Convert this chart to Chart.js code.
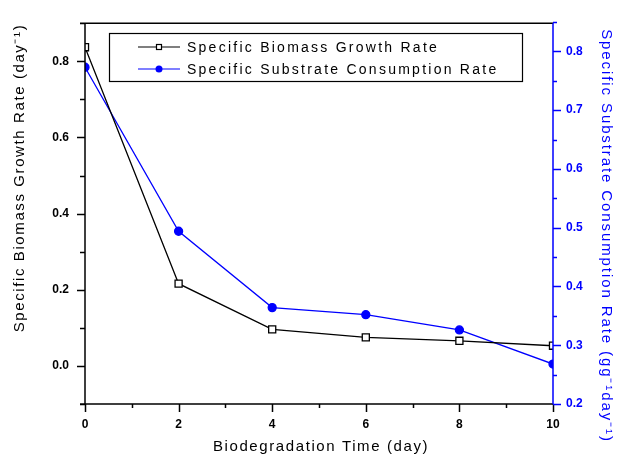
<!DOCTYPE html>
<html>
<head>
<meta charset="utf-8">
<script src="https://cdn.jsdelivr.net/npm/chart.js@4"></script>
<style>
  body { margin: 0; background: #fff; }
  #wrap { width: 618px; height: 455px; position: relative; }
</style>
</head>
<body>
<div id="wrap"><canvas id="myChart"></canvas></div>
<script>
// values
const days = [0, 2, 4, 6, 8, 10];
const biomassRate = [0.837, 0.216, 0.096, 0.075, 0.066, 0.053];     // day^-1, left axis
const substrateRate = [0.773, 0.494, 0.364, 0.352, 0.326, 0.268];   // g g^-1 day^-1, right axis

const xTicks = [0, 2, 4, 6, 8, 10];
const leftTicks = [0.0, 0.2, 0.4, 0.6, 0.8];
const rightTicks = [0.2, 0.3, 0.4, 0.5, 0.6, 0.7, 0.8];

const seriesNames = ["Specific Biomass Growth Rate", "Specific Substrate Consumption Rate"];
const xTitle = "Biodegradation Time (day)";
const leftTitle = "Specific Biomass Growth Rate (day\u207B\u00B9)";
const rightTitle = "Specific Substrate Consumption Rate (gg\u207B\u00B9day\u207B\u00B9)";

const BLUE = "#0000ff";
const FONT = "'Liberation Sans', Arial, sans-serif";

// axes frame, tick marks, titles and the boxed legend
const framePlugin = {
    id: "frame",
    afterDraw(chart) {
        const ctx = chart.ctx;
        const a = chart.chartArea;
        const x = chart.scales.x, yl = chart.scales.y, yr = chart.scales.y2;
        ctx.save();
        ctx.lineWidth = 1.5;

        // left axis + ticks
        ctx.strokeStyle = "#000";
        ctx.beginPath();
        ctx.moveTo(a.left, a.top); ctx.lineTo(a.left, a.bottom);
        ctx.moveTo(a.left - 5, a.top); ctx.lineTo(a.right, a.top);
        ctx.moveTo(a.left - 5, a.bottom); ctx.lineTo(a.right, a.bottom);
        for (let v = -0.1; v <= 0.9001; v += 0.1) {
            const py = Math.round(yl.getPixelForValue(v)) + 0.5;
            const major = Math.abs(Math.round(v * 10) % 2) === 0;
            ctx.moveTo(a.left, py); ctx.lineTo(a.left - (major ? 8 : 5), py);
        }
        // bottom ticks
        for (let v = 0; v <= 10; v++) {
            const px = Math.round(x.getPixelForValue(v)) + 0.5;
            ctx.moveTo(px, a.bottom); ctx.lineTo(px, a.bottom + (v % 2 === 0 ? 8 : 4));
        }
        ctx.stroke();

        // right axis + ticks
        ctx.strokeStyle = BLUE;
        ctx.beginPath();
        ctx.moveTo(a.right, a.top); ctx.lineTo(a.right, a.bottom);
        for (let v = 0.2; v <= 0.8501; v += 0.05) {
            const py = Math.round(yr.getPixelForValue(v)) + 0.5;
            const major = Math.round(v * 100) % 10 === 0;
            ctx.moveTo(a.right, py); ctx.lineTo(a.right + (major ? 8 : 4), py);
        }
        ctx.stroke();

        // axis titles
        ctx.font = "15px " + FONT;
        ctx.letterSpacing = "1.6px";
        ctx.textAlign = "center";
        ctx.textBaseline = "middle";
        ctx.fillStyle = "#000";
        ctx.fillText(xTitle, (a.left + a.right) / 2 + 2, 447);

        ctx.save();
        ctx.translate(20, 178);
        ctx.rotate(-Math.PI / 2);
        ctx.fillText(leftTitle, 0, 0);
        ctx.restore();

        ctx.save();
        ctx.letterSpacing = "1.9px";
        ctx.fillStyle = BLUE;
        ctx.translate(606, 236);
        ctx.rotate(Math.PI / 2);
        ctx.fillText(rightTitle, 0, 0);
        ctx.restore();

        // legend box
        ctx.letterSpacing = "2.25px";
        ctx.lineWidth = 1.2;
        ctx.strokeStyle = "#000";
        ctx.strokeRect(109.5, 33.5, 413, 48);
        const rows = [
            { y: 47, color: "#000", filled: false },
            { y: 69, color: BLUE, filled: true }
        ];
        ctx.font = "14px " + FONT;
        ctx.textAlign = "left";
        rows.forEach((r, i) => {
            ctx.strokeStyle = r.color;
            ctx.lineWidth = 1.2;
            ctx.beginPath();
            ctx.moveTo(138, r.y); ctx.lineTo(180, r.y);
            ctx.stroke();
            if (r.filled) {
                ctx.fillStyle = r.color;
                ctx.beginPath();
                ctx.arc(159, r.y, 3.5, 0, Math.PI * 2);
                ctx.fill();
            } else {
                ctx.fillStyle = "#fff";
                ctx.fillRect(156, r.y - 3, 6, 6);
                ctx.strokeRect(156.5, r.y - 2.5, 5, 5);
            }
            ctx.fillStyle = "#000";
            ctx.fillText(seriesNames[i], 187, r.y + 1);
        });
        ctx.restore();
    }
};

const ctx = document.getElementById("myChart").getContext("2d");

new Chart(ctx, {
    type: "line",
    data: {
        datasets: [
            {
                label: seriesNames[0],
                data: days.map((d, i) => ({ x: d, y: biomassRate[i] })),
                yAxisID: "y",
                borderColor: "#000",
                borderWidth: 1.3,
                pointStyle: "rect",
                pointRadius: 5,
                pointBorderWidth: 1.3,
                pointBackgroundColor: "#fff",
                pointBorderColor: "#000",
                tension: 0
            },
            {
                label: seriesNames[1],
                data: days.map((d, i) => ({ x: d, y: substrateRate[i] })),
                yAxisID: "y2",
                borderColor: BLUE,
                borderWidth: 1.3,
                pointStyle: "circle",
                pointRadius: 4,
                pointBackgroundColor: BLUE,
                pointBorderColor: BLUE,
                tension: 0
            }
        ]
    },
    options: {
        responsive: true,
        maintainAspectRatio: false,
        animation: false,
        layout: { padding: { top: 15, left: 0, right: 0, bottom: 0 } },
        plugins: {
            legend: { display: false },
            tooltip: { enabled: false }
        },
        scales: {
            x: {
                type: "linear",
                min: 0,
                max: 10,
                grid: { display: false, drawTicks: false },
                border: { display: false },
                afterBuildTicks: s => { s.ticks = xTicks.map(v => ({ value: v })); },
                afterFit: s => { s.height = 51; },
                ticks: {
                    padding: 13,
                    color: "#000",
                    font: { family: FONT, size: 12, weight: "bold" },
                    callback: v => String(v)
                }
            },
            y: {
                position: "left",
                min: -0.1,
                max: 0.9,
                grid: { display: false, drawTicks: false },
                border: { display: false },
                afterBuildTicks: s => { s.ticks = leftTicks.map(v => ({ value: v })); },
                afterFit: s => { s.width = 85; },
                ticks: {
                    padding: 16,
                    color: "#000",
                    font: { family: FONT, size: 12, weight: "bold" },
                    callback: v => v.toFixed(1)
                }
            },
            y2: {
                position: "right",
                min: 0.2,
                max: 0.848,
                grid: { display: false, drawTicks: false },
                border: { display: false },
                afterBuildTicks: s => { s.ticks = rightTicks.map(v => ({ value: v })); },
                afterFit: s => { s.width = 65; },
                ticks: {
                    padding: 13,
                    color: BLUE,
                    font: { family: FONT, size: 12, weight: "bold" },
                    callback: v => v.toFixed(1)
                }
            }
        }
    },
    plugins: [framePlugin]
});
</script>
</body>
</html>
